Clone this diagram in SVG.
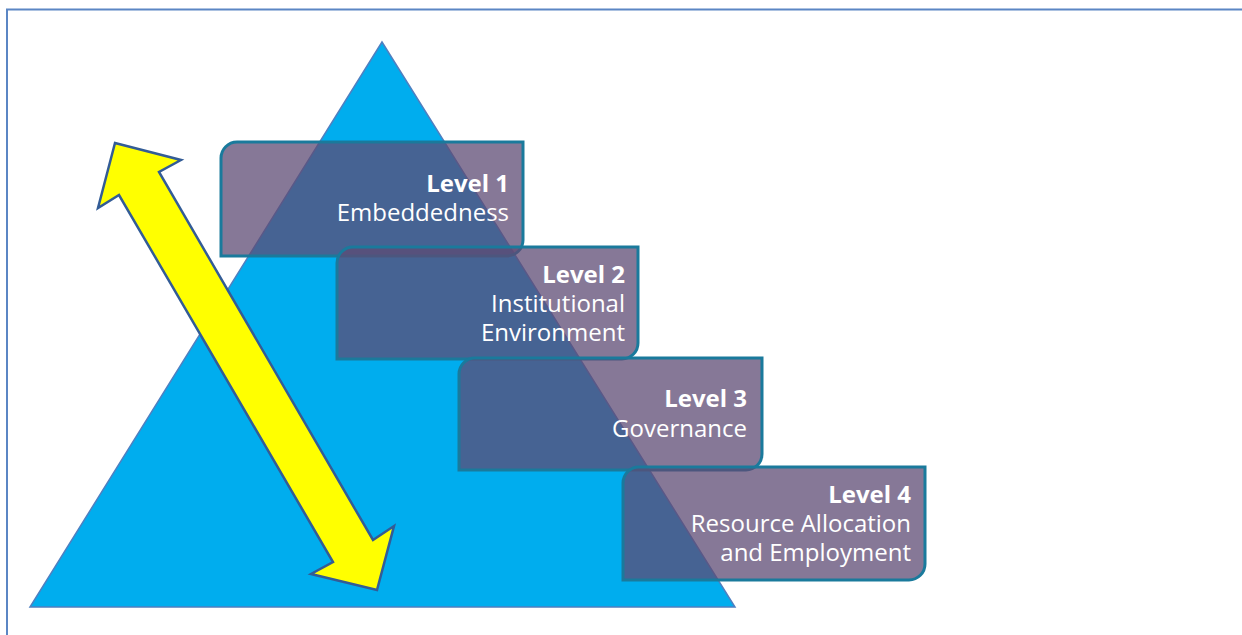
<svg xmlns="http://www.w3.org/2000/svg" width="1242" height="635" viewBox="0 0 1242 635">
<style>
.box{fill:#5D4B74;fill-opacity:0.75;stroke:#1A7A9C;stroke-width:3}
.t{font-family:"Open Sans","Noto Sans",sans-serif;font-size:24px;fill:#FFFFFF;text-anchor:end}
.b{font-weight:bold}
</style>
<rect width="1242" height="635" fill="#FFFFFF"/>
<rect x="7" y="9.5" width="1300" height="700" fill="none" stroke="#5B86C4" stroke-width="2"/>
<g id="pyramid">
<polygon points="382,42 735,607 30,607" fill="#00ADEE" stroke="#4F7FC0" stroke-width="1.5"/>
</g>
<g id="connectors">
<polygon points="115,143 181,160 159,172 373,540 394,526 377,590 311,574 333,562 119,195 98,208" fill="#FFFF00" stroke="#335C96" stroke-width="2.5" stroke-linejoin="miter"/>
</g>
<g id="level1">
<path class="box" d="M237,142 H523 V240 A16,16 0 0 1 507,256 H221 V158 A16,16 0 0 1 237,142 Z"/>
<text class="t b" x="509" y="192">Level 1</text>
<text class="t" x="509" y="221">Embeddedness</text>
</g>
<g id="level2">
<path class="box" d="M353,247 H638 V343 A16,16 0 0 1 622,359 H337 V263 A16,16 0 0 1 353,247 Z"/>
<text class="t b" x="625" y="283">Level 2</text>
<text class="t" x="625" y="312">Institutional</text>
<text class="t" x="625" y="341">Environment</text>
</g>
<g id="level3">
<path class="box" d="M475,358 H762 V454 A16,16 0 0 1 746,470 H459 V374 A16,16 0 0 1 475,358 Z"/>
<text class="t b" x="747" y="407">Level 3</text>
<text class="t" x="747" y="437">Governance</text>
</g>
<g id="level4">
<path class="box" d="M639,467 H925 V564 A16,16 0 0 1 909,580 H623 V483 A16,16 0 0 1 639,467 Z"/>
<text class="t b" x="911" y="503">Level 4</text>
<text class="t" x="911" y="532">Resource Allocation</text>
<text class="t" x="911" y="561">and Employment</text>
</g>
</svg>
